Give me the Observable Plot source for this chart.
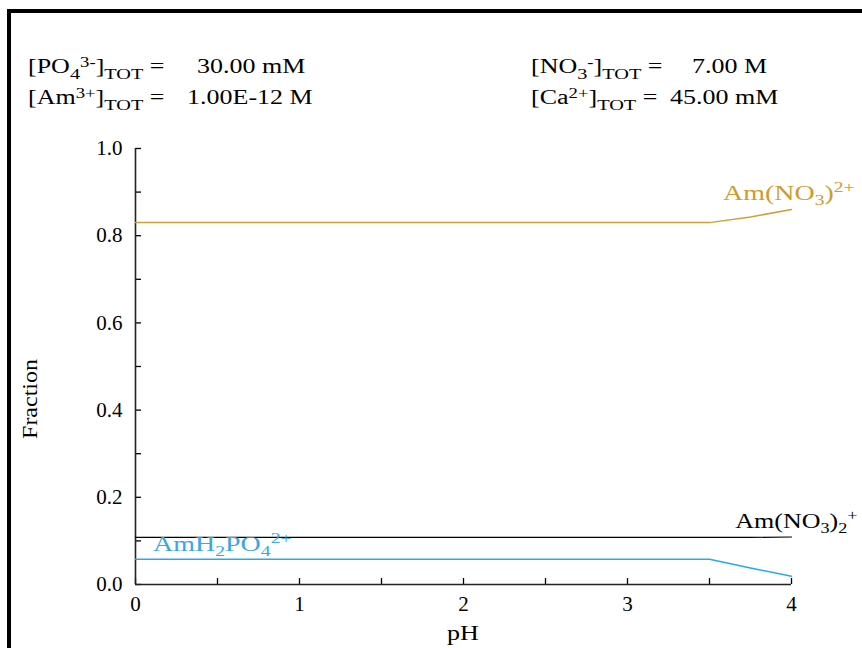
<!DOCTYPE html>
<html><head><meta charset="utf-8">
<script src="https://cdn.jsdelivr.net/npm/d3@7"></script>
<script src="https://cdn.jsdelivr.net/npm/@observablehq/plot@0.6"></script>
<style>
body{margin:0;background:#fff;}
#wrap{position:relative;width:862px;height:648px;overflow:hidden;font-family:"Liberation Serif","Times New Roman",serif;background:#fff;}
.bar{position:absolute;background:#000;}
.hd{position:absolute;font-size:20px;white-space:nowrap;transform-origin:0 50%;transform:scaleX(1.3);line-height:20px;color:#000;}
.hd sub,.hd sup{line-height:0;}
.hd sup{font-size:72%;vertical-align:0.45em;}
.hd sub{font-size:78%;vertical-align:-0.4em;}
#chart{position:absolute;left:0;top:0;}
</style></head>
<body><div id="wrap"><div id="chart"></div></div>
<script>
// ---- data ----
const pH = [0, 0.5, 1, 1.5, 2, 2.5, 3, 3.5, 3.75, 4];
const fracAmNO3 = [0.83, 0.83, 0.83, 0.83, 0.83, 0.83, 0.83, 0.83, 0.843, 0.86];      // Am(NO3)^2+
const fracAmNO3_2 = [0.108, 0.108, 0.108, 0.108, 0.108, 0.108, 0.108, 0.108, 0.108, 0.109]; // Am(NO3)2^+
const fracAmH2PO4 = [0.058, 0.058, 0.058, 0.058, 0.058, 0.058, 0.058, 0.058, 0.038, 0.019]; // AmH2PO4^2+
const xMajorTicks = [0, 1, 2, 3, 4];
const xMinorTicks = [0, 0.5, 1, 1.5, 2, 2.5, 3, 3.5, 4];
const yMajorTicks = [0, 0.2, 0.4, 0.6, 0.8, 1.0];
const yMinorTicks = [0, 0.1, 0.2, 0.3, 0.4, 0.5, 0.6, 0.7, 0.8, 0.9, 1.0];
const species = ["[PO<sub>4</sub><sup>3-</sup>]<sub>TOT</sub> =", "[Am<sup>3+</sup>]<sub>TOT</sub> =",
                 "[NO<sub>3</sub><sup>-</sup>]<sub>TOT</sub> =", "[Ca<sup>2+</sup>]<sub>TOT</sub> ="];
const totals = ["30.00 mM", "1.00E-12 M", "7.00 M", "45.00 mM"];
const seriesLabels = [
  {x: 3.585, y: 0.88, color: "#D09B2C", parts: [["Am(NO", 0], ["3", 1], [")", 0], ["2+", -1]]},
  {x: 3.66, y: 0.128, color: "#000000", parts: [["Am(NO", 0], ["3", 1], [")", 0], ["2", 1], ["+", -1]]},
  {x: 0.11, y: 0.076, color: "#3BA7E0", parts: [["AmH", 0], ["2", 1], ["PO", 0], ["4", 1], ["2+", -1]]}
];
const colors = {orange: "#CFA03A", black: "#000000", blue: "#2AAAE2"};

const rows = (ys) => pH.map((x, i) => ({x, y: ys[i]}));

const plot = Plot.plot({
  width: 862, height: 648,
  marginLeft: 135, marginRight: 71, marginTop: 148, marginBottom: 64,
  style: {fontFamily: "'Liberation Serif','Times New Roman',serif", fontSize: "21px", color: "#000", background: "transparent"},
  x: {domain: [0, 4]},
  y: {domain: [0, 1]},
  marks: [
    Plot.axisX({ticks: xMinorTicks, tickSize: -6, tickFormat: () => "", label: null, strokeWidth: 1.3}),
    Plot.axisX({ticks: xMajorTicks, tickSize: 0, tickPadding: 12, fontSize: 21, label: null, tickFormat: d3.format("d")}),
    Plot.axisY({ticks: yMinorTicks, tickSize: -6, tickFormat: () => "", label: null, strokeWidth: 1.3}),
    Plot.axisY({ticks: yMajorTicks, tickSize: 0, tickPadding: 13, fontSize: 21, label: null, tickFormat: d3.format(".1f")}),
    Plot.ruleY([0], {stroke: "#222", strokeWidth: 1.6}),
    Plot.ruleX([0], {stroke: "#222", strokeWidth: 1.6}),
    Plot.lineY(rows(fracAmNO3), {x: "x", y: "y", stroke: colors.orange, strokeWidth: 1.5}),
    Plot.lineY(rows(fracAmNO3_2), {x: "x", y: "y", stroke: colors.black, strokeWidth: 1.2}),
    Plot.lineY(rows(fracAmH2PO4), {x: "x", y: "y", stroke: colors.blue, strokeWidth: 1.5})
  ]
});
document.getElementById("chart").appendChild(plot);

const sx = plot.scale("x"), sy = plot.scale("y");
const svg = d3.select(plot);
const ff = "'Liberation Serif','Times New Roman',serif";

// series labels
seriesLabels.forEach((L, i) => {
  const sc = i === 1 ? 1.3 : 1.4;
  const t = svg.append("text")
    .attr("transform", `translate(${sx.apply(L.x)},${sy.apply(L.y)}) scale(${sc},1)`)
    .attr("text-anchor", "start")
    .attr("font-family", ff).attr("font-size", 20).attr("fill", L.color);
  let cur = 0;
  for (const [s, lvl] of L.parts) {
    const target = lvl === 1 ? 5 : lvl === -1 ? -8 : 0;
    t.append("tspan").attr("dy", target - cur).attr("font-size", lvl === 0 ? 20 : 14).text(s);
    cur = target;
  }
});

// axis titles
svg.append("text")
  .attr("transform", `translate(${(sx.apply(0) + sx.apply(4)) / 2},633) scale(1.3,1)`)
  .attr("text-anchor", "middle").attr("dominant-baseline", "central")
  .attr("font-family", ff).attr("font-size", 20).text("pH");
svg.append("text")
  .attr("transform", `translate(30,399) rotate(-90) scale(1.2,1)`)
  .attr("text-anchor", "middle").attr("dominant-baseline", "central")
  .attr("font-family", ff).attr("font-size", 20).text("Fraction");

// frame bars + header
const wrap = document.getElementById("wrap");
const addBar = (l, t, w, h) => { const d = document.createElement("div"); d.className = "bar";
  Object.assign(d.style, {left: l + "px", top: t + "px", width: w + "px", height: h + "px"}); wrap.appendChild(d); };
addBar(7, 9, 3.5, 640);
addBar(7, 9, 860, 3.5);

const labelPos = [[28, 56], [28, 87], [531, 56], [531, 87]];
const valuePos = [197, 187, 692, 670];
species.forEach((s, i) => {
  const a = document.createElement("div"); a.className = "hd"; a.innerHTML = s;
  a.style.left = labelPos[i][0] + "px"; a.style.top = labelPos[i][1] + "px"; wrap.appendChild(a);
  const b = document.createElement("div"); b.className = "hd"; b.textContent = totals[i];
  b.style.left = valuePos[i] + "px"; b.style.top = labelPos[i][1] + "px"; wrap.appendChild(b);
});
</script>
</body></html>
